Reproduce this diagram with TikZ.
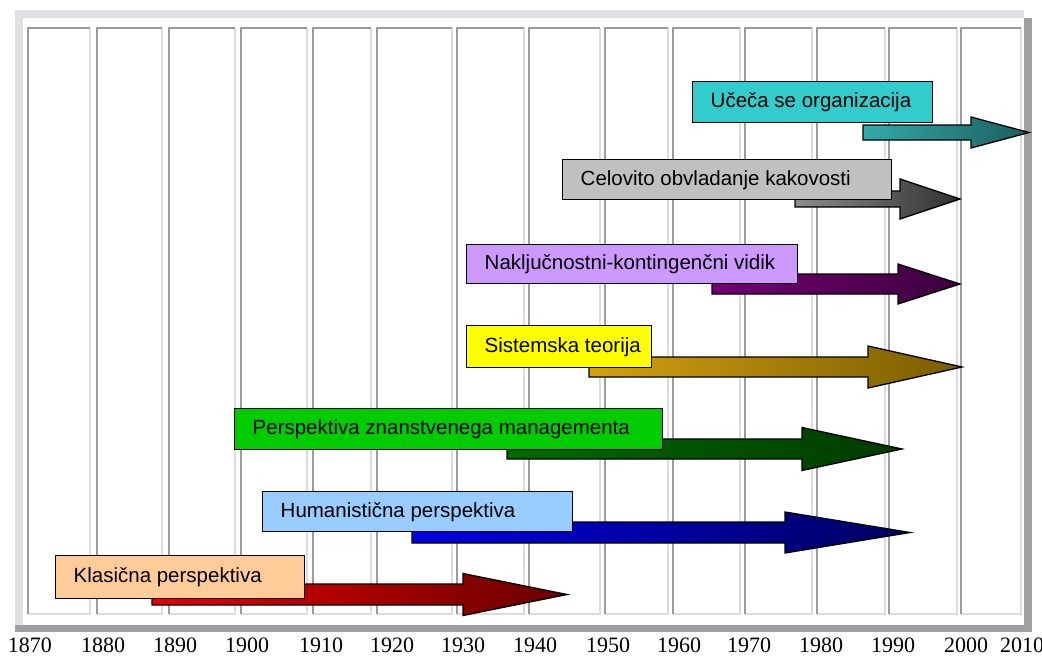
\documentclass[tikz,border=0pt]{standalone}
\usepackage{fontspec}
\setmainfont{Liberation Serif}
\newfontfamily\boxfont{Liberation Sans}

\definecolor{bandlight}{HTML}{E0E0E4}
\definecolor{banddark}{HTML}{A0A0A4}
\definecolor{coldark}{HTML}{9C9CA0}
\definecolor{collight}{HTML}{DCDCE0}

% box fills
\definecolor{cyanbox}{HTML}{33CCCC}
\definecolor{silverbox}{HTML}{C0C0C0}
\definecolor{lilacbox}{HTML}{CC99FF}
\definecolor{yellowbox}{HTML}{FFFF00}
\definecolor{greenbox}{HTML}{00CC00}
\definecolor{bluebox}{HTML}{99CCFF}
\definecolor{peachbox}{HTML}{FFCC99}

% arrow gradients (left -> right)
\definecolor{redL}{HTML}{E80000}\definecolor{redR}{HTML}{680000}
\definecolor{blueL}{HTML}{0000E0}\definecolor{blueR}{HTML}{000060}
\definecolor{greenL}{HTML}{006A00}\definecolor{greenR}{HTML}{003A00}
\definecolor{goldL}{HTML}{D4A010}\definecolor{goldR}{HTML}{7A5C00}
\definecolor{purpleL}{HTML}{740074}\definecolor{purpleR}{HTML}{3C003C}
\definecolor{grayL}{HTML}{8C8C8C}\definecolor{grayR}{HTML}{303030}
\definecolor{tealL}{HTML}{33AAAA}\definecolor{tealR}{HTML}{1C5E5E}

% block arrow: x0, head start, tip, centre y, body half height, head half height, left colour, right colour
\newcommand\blockarrow[8]{%
  \shadedraw[blockline, left color=#7, right color=#8]
    (#1,#4-#5) -- (#2,#4-#5) -- (#2,#4-#6) -- (#3,#4)
    -- (#2,#4+#6) -- (#2,#4+#5) -- (#1,#4+#5) -- cycle;}

% left-aligned label of a fixed inner width
\newcommand\boxtext[2]{\makebox[#1][l]{#2}}

\begin{document}
\begin{tikzpicture}[x=1pt,y=-1pt,
  blockline/.style={draw=black, line width=1.3pt, line join=miter},
  tbox/.style={draw=black, line width=1.4pt, rectangle, anchor=north west,
    inner xsep=18pt, inner ysep=0pt,
    font=\boxfont\fontsize{20.5}{24}\selectfont},
  yearlbl/.style={anchor=base, inner sep=0pt, font=\fontsize{22}{26}\selectfont},
  coltop/.style={draw=coldark, line width=2pt},
  colbot/.style={draw=collight, line width=2pt}]

\useasboundingbox (0,0) rectangle (1042,661);
\fill[white] (0,0) rectangle (1042,661);

% chart frame with shadow on the right and bottom
\fill[bandlight] (15,10) rectangle (1024,625);
\fill[white] (23,18) rectangle (1024,625);
\fill[banddark] (1024,18) rectangle (1032,632);
\fill[banddark] (15,625) rectangle (1032,632);

% decade columns
\foreach \l/\r in {28/90, 97/162, 169/235, 241/307, 313/371, 377/452, 457/524,
                   529/600, 605/668, 673/740, 745/812, 817/885, 889/957, 961/1021} {
  \draw[colbot] (\r,28) -- (\r,614) -- (\l,614);
  \draw[coltop] (\l,614) -- (\l,28) -- (\r,28);
}

% year axis
\foreach \yr/\xc in {1870/30, 1880/103, 1890/175, 1900/247, 1910/321, 1920/392,
                     1930/463, 1940/535, 1950/608, 1960/679, 1970/749, 1980/821,
                     1990/893, 2000/966, 2010/1022} {
  \node[yearlbl] (y\yr) at (\xc,652) {\yr};
}

% Klasična perspektiva
\blockarrow{152}{463}{567}{594.5}{10.5}{21}{redL}{redR}
\node[tbox, fill=peachbox, minimum width=249pt, minimum height=43pt]
  (klas) at (55,555) {\boxtext{213pt}{Klasična perspektiva}};

% Humanistična perspektiva
\blockarrow{412}{785}{910}{532.5}{10.5}{20.5}{blueL}{blueR}
\node[tbox, fill=bluebox, minimum width=310pt, minimum height=40pt]
  (hum) at (262,491) {\boxtext{274pt}{Humanistična perspektiva}};

% Perspektiva znanstvenega managementa
\blockarrow{507}{802}{902}{449}{10}{21.5}{greenL}{greenR}
\node[tbox, fill=greenbox, minimum width=428pt, minimum height=41pt]
  (znan) at (234,408) {\boxtext{392pt}{Perspektiva znanstvenega managementa}};

% Sistemska teorija
\blockarrow{589}{868}{962}{367}{10}{21}{goldL}{goldR}
\node[tbox, fill=yellowbox, minimum width=185pt, minimum height=42pt]
  (sist) at (466,325) {\boxtext{149pt}{Sistemska teorija}};

% Naključnostni-kontingenčni vidik
\blockarrow{712}{898}{960}{284}{10}{20}{purpleL}{purpleR}
\node[tbox, fill=lilacbox, minimum width=331pt, minimum height=39pt]
  (kont) at (466,244) {\boxtext{295pt}{Naključnostni-kontingenčni vidik}};

% Celovito obvladanje kakovosti
\blockarrow{795}{900}{960}{199}{8}{20}{grayL}{grayR}
\node[tbox, fill=silverbox, minimum width=329pt, minimum height=40pt]
  (kak) at (562,159) {\boxtext{293pt}{Celovito obvladanje kakovosti}};

% Učeča se organizacija
\blockarrow{863}{971}{1029}{132.5}{7.5}{15.5}{tealL}{tealR}
\node[tbox, fill=cyanbox, minimum width=240pt, minimum height=41pt]
  (uce) at (692,81) {\boxtext{204pt}{Učeča se organizacija}};

\end{tikzpicture}
\end{document}
